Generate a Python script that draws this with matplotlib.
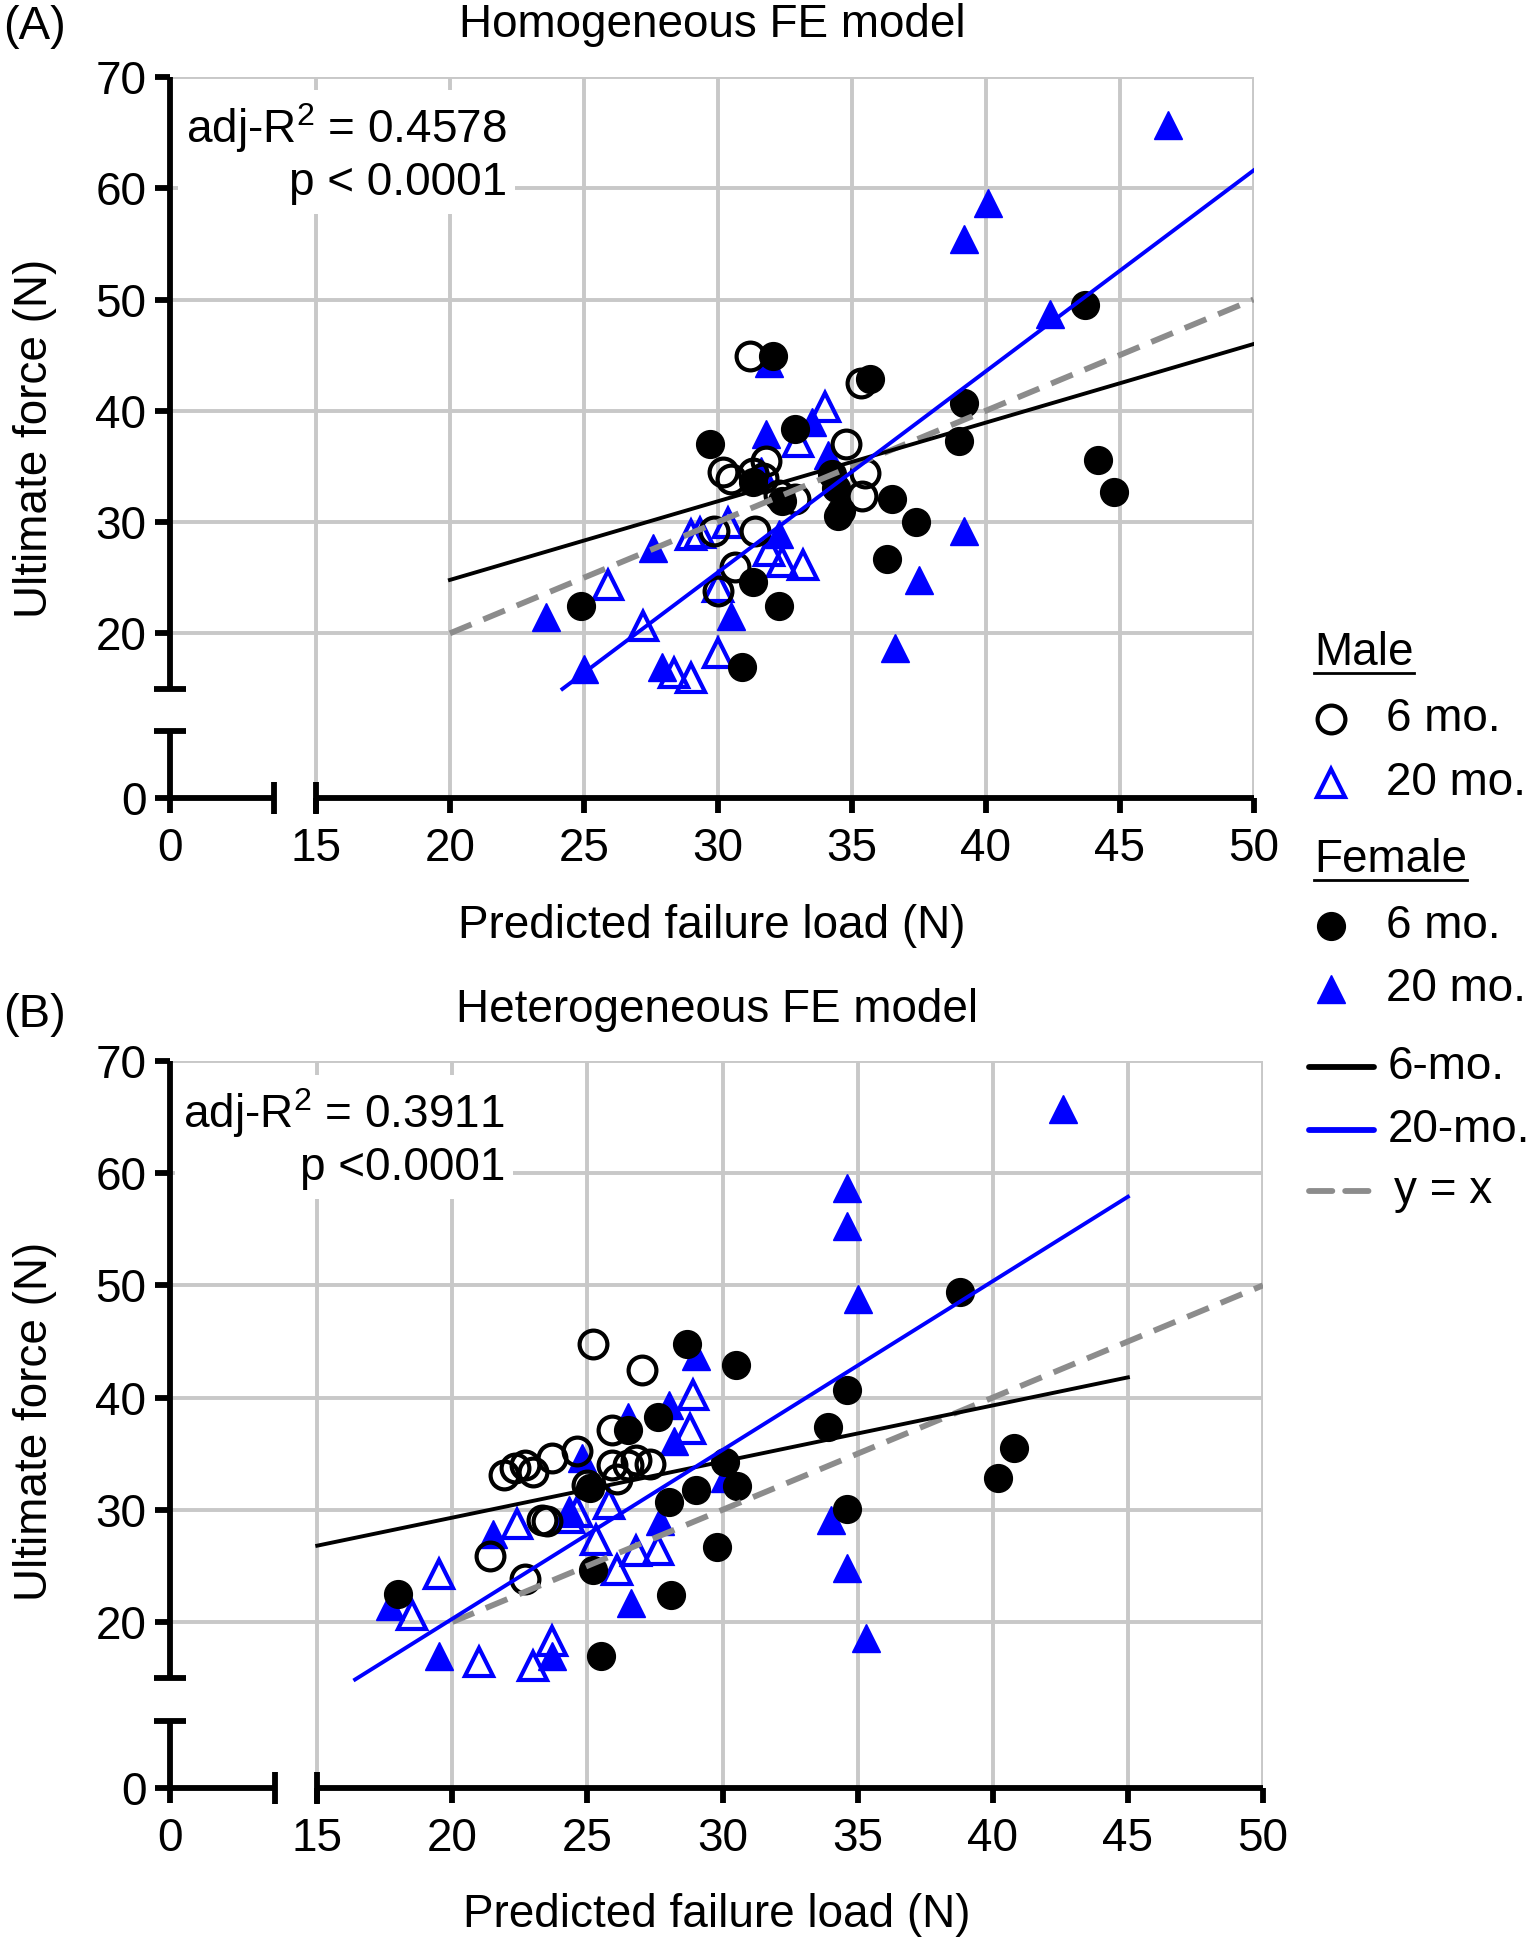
import numpy as np
import matplotlib
matplotlib.use('Agg')
import matplotlib.pyplot as plt
from matplotlib.lines import Line2D

plt.rcParams['font.family'] = ['Liberation Sans', 'DejaVu Sans']
plt.rcParams['mathtext.fontset'] = 'custom'
plt.rcParams['mathtext.rm'] = 'Liberation Sans'
plt.rcParams['mathtext.it'] = 'Liberation Sans:italic'

BLUE = '#0000ff'
GRAY = '#8c8c8c'
GRID = '#c8c8c8'
FS = 33

# ---- panel A: homogeneous FE model ----
a_m6_x = [31.2, 35.35, 34.8, 35.5, 35.4, 32.9, 30.2, 30.5, 31.8, 31.7, 31.3, 29.85, 31.4, 30.65, 30.0, 32.3]
a_m6_y = [44.9, 42.5, 37.0, 34.4, 32.3, 32.1, 34.5, 33.9, 35.5, 34.0, 34.4, 29.2, 29.2, 26.0, 23.8, 32.4]
a_m20_x = [34.0, 33.0, 25.9, 27.2, 28.35, 29.0, 30.0, 29.0, 29.35, 30.4, 31.9, 32.4, 33.2, 30.0]
a_m20_y = [40.3, 37.2, 24.3, 20.7, 16.4, 16.0, 18.2, 28.8, 29.0, 29.9, 27.4, 26.4, 26.1, 24.2]
a_f6_x = [32.05, 35.7, 43.7, 39.2, 39.0, 44.2, 44.8, 36.5, 37.4, 36.3, 29.7, 32.9, 31.3, 32.3, 24.9, 30.9,
          34.25, 34.4, 34.6, 34.5, 31.3, 32.4]
a_f6_y = [44.9, 42.9, 49.5, 40.7, 37.3, 35.6, 32.7, 32.1, 30.0, 26.7, 37.0, 38.4, 24.6, 22.5, 22.5, 17.0,
          34.3, 33.1, 31.0, 30.5, 33.6, 31.9]
a_f20_x = [46.8, 40.1, 39.2, 42.4, 31.9, 31.8, 33.5, 34.1, 39.2, 37.5, 36.6, 27.6, 23.6, 25.0, 27.9, 30.5, 32.3, 31.6]
a_f20_y = [65.7, 58.7, 55.4, 48.7, 44.3, 37.9, 39.0, 36.0, 29.2, 24.8, 18.7, 27.7, 21.5, 16.8, 17.0, 21.6, 28.9, 34.6]
a_fit6_x, a_fit6_y = [20, 50], [24.8, 46.0]
a_fit20_x, a_fit20_y = [24.2, 50], [15.0, 61.6]
a_idx_x, a_idx_y = [20, 50], [20, 50]
a_stats = 'adj-R$^2$ = 0.4578\np < 0.0001'

# ---- panel B: heterogeneous FE model ----
b_m6_x = [25.2, 27.0, 25.9, 21.9, 22.3, 22.7, 23.0, 23.7, 24.6, 25.0, 25.9, 26.1, 26.5, 26.8, 27.3, 23.3, 23.5, 21.4, 22.7]
b_m6_y = [44.8, 42.5, 37.1, 33.1, 33.7, 34.0, 33.4, 34.6, 35.2, 32.2, 34.0, 32.7, 34.0, 34.4, 34.1, 29.1, 29.0, 25.9, 23.8]
b_m20_x = [28.9, 28.8, 19.5, 18.5, 21.0, 23.0, 23.7, 22.4, 24.3, 24.6, 25.8, 25.3, 26.1, 26.8, 27.6]
b_m20_y = [40.2, 37.2, 24.3, 20.6, 16.4, 16.1, 18.3, 28.7, 29.3, 29.8, 30.5, 27.3, 24.6, 26.3, 26.4]
b_f6_x = [28.7, 30.5, 27.6, 26.5, 25.1, 30.1, 30.55, 29.0, 28.0, 29.8, 28.1, 25.2, 25.5, 18.0, 34.6, 33.9, 34.6,
          38.8, 40.8, 40.2]
b_f6_y = [44.8, 42.9, 38.3, 37.1, 31.9, 34.3, 32.1, 31.8, 30.7, 26.7, 22.4, 24.6, 17.0, 22.5, 40.7, 37.4, 30.1,
          49.4, 35.5, 32.8]
b_f20_x = [42.6, 34.6, 34.6, 35.0, 34.0, 34.6, 35.3, 29.0, 28.0, 28.2, 27.7, 26.6, 19.5, 17.7, 23.7, 26.5, 21.5,
           24.8, 24.3, 30.1]
b_f20_y = [65.7, 58.7, 55.3, 48.8, 29.1, 24.8, 18.6, 43.7, 39.3, 36.1, 29.0, 21.7, 17.0, 21.4, 17.0, 38.3, 27.8,
           34.6, 30.0, 32.8]
b_fit6_x, b_fit6_y = [15, 45], [26.8, 41.8]
b_fit20_x, b_fit20_y = [16.4, 45], [14.8, 57.9]
b_idx_x, b_idx_y = [20, 50], [20, 50]
b_stats = 'adj-R$^2$ = 0.3911\np <0.0001'

x_ticks = [0, 15, 20, 25, 30, 35, 40, 45, 50]
y_ticks = [0, 20, 30, 40, 50, 60, 70]

W, H = 1537, 1950
fig = plt.figure(figsize=(W / 100, H / 100), dpi=100)

MS = 20
MEW = 3.0
AXW = 4.2


def P(px, py):
    return px / W, 1 - py / H


def broken(k, brk=15.0):
    def fwd(v):
        v = np.asarray(v, dtype=float)
        return np.where(v < brk, v * k / brk, k + (v - brk))

    def inv(d):
        d = np.asarray(d, dtype=float)
        return np.where(d < k, d * brk / k, d - k + brk)
    return fwd, inv


def panel(rect, m6, m20, f6, f20, fit6, fit20, idx):
    ax = fig.add_axes(rect)
    ax.set_xscale('function', functions=broken(5.45))
    ax.set_yscale('function', functions=broken(9.8))
    ax.set_xlim(0, 50)
    ax.set_ylim(0, 70)
    for s in ax.spines.values():
        s.set_visible(False)
    for v in x_ticks[1:]:
        ax.axvline(v, color=GRID, lw=2.8, zorder=0)
    for v in y_ticks[1:]:
        ax.axhline(v, color=GRID, lw=2.8, zorder=0)

    ax.plot(*m20, ls='none', marker='^', ms=MS, mfc='none', mec=BLUE, mew=MEW, zorder=3, clip_on=False)
    ax.plot(*f20, ls='none', marker='^', ms=MS, mfc=BLUE, mec=BLUE, mew=1, zorder=3, clip_on=False)
    ax.plot(*m6, ls='none', marker='o', ms=MS, mfc='none', mec='black', mew=MEW, zorder=4, clip_on=False)
    ax.plot(*f6, ls='none', marker='o', ms=MS, mfc='black', mec='black', mew=1, zorder=4, clip_on=False)

    ax.plot(*idx, color=GRAY, lw=4.2, dashes=(4, 2.2), zorder=5)
    ax.plot(*fit6, color='black', lw=2.8, zorder=5)
    ax.plot(*fit20, color=BLUE, lw=2.8, zorder=5)

    # broken axis lines
    lk = dict(color='black', lw=AXW, solid_capstyle='butt', clip_on=False, zorder=6)
    ax.plot([0, 0], [0, 9.2], **lk)
    ax.plot([0, 0], [15, 70], **lk)
    ax.plot([0, 10.7], [0, 0], **lk)
    ax.plot([15, 50], [0, 0], **lk)
    ck = dict(ls='none', color='black', ms=23, mew=AXW, clip_on=False, zorder=6)
    ax.plot([0, 0], [9.2, 15], marker='_', **ck)
    ax.plot([10.7, 15], [0, 0], marker='|', **ck)

    ax.set_xticks(x_ticks)
    ax.set_yticks(y_ticks)
    ax.set_xticklabels([str(v) for v in x_ticks])
    ax.set_yticklabels([str(v) for v in y_ticks])
    ax.tick_params(direction='out', length=11, width=AXW, labelsize=FS, color='black')
    ax.tick_params(axis='x', pad=10)
    ax.tick_params(axis='y', pad=6)
    ax.minorticks_off()
    return ax


ax_a = panel([170 / W, 1 - 798 / H, (1253.5 - 170) / W, (798 - 77) / H],
             (a_m6_x, a_m6_y), (a_m20_x, a_m20_y), (a_f6_x, a_f6_y), (a_f20_x, a_f20_y),
             (a_fit6_x, a_fit6_y), (a_fit20_x, a_fit20_y), (a_idx_x, a_idx_y))
ax_b = panel([170 / W, 1 - 1788 / H, (1263 - 170) / W, (1788 - 1061) / H],
             (b_m6_x, b_m6_y), (b_m20_x, b_m20_y), (b_f6_x, b_f6_y), (b_f20_x, b_f20_y),
             (b_fit6_x, b_fit6_y), (b_fit20_x, b_fit20_y), (b_idx_x, b_idx_y))

# titles, labels, panel letters
fig.text(*P(712, 25), 'Homogeneous FE model', fontsize=FS, ha='center', va='center')
fig.text(*P(717, 1010), 'Heterogeneous FE model', fontsize=FS, ha='center', va='center')
fig.text(*P(3, 27), '(A)', fontsize=FS + 1, ha='left', va='center')
fig.text(*P(3, 1015), '(B)', fontsize=FS + 1, ha='left', va='center')
fig.text(*P(712, 926), 'Predicted failure load (N)', fontsize=FS, ha='center', va='center')
fig.text(*P(717, 1915), 'Predicted failure load (N)', fontsize=FS, ha='center', va='center')
fig.text(*P(35, 438), 'Ultimate force (N)', fontsize=FS, ha='center', va='center', rotation=90)
fig.text(*P(35, 1421), 'Ultimate force (N)', fontsize=FS, ha='center', va='center', rotation=90)

# stats boxes
bb = dict(facecolor='white', edgecolor='none', pad=6)
fig.text(*P(507, 153), a_stats, fontsize=FS, ha='right', va='center', multialignment='right',
         linespacing=1.2, bbox=bb, zorder=10)
fig.text(*P(505, 1138), b_stats, fontsize=FS, ha='right', va='center', multialignment='right',
         linespacing=1.2, bbox=bb, zorder=10)

# legend
heads = []
heads.append(fig.text(*P(1314, 653), 'Male', fontsize=FS, ha='left', va='center'))
heads.append(fig.text(*P(1314, 860), 'Female', fontsize=FS, ha='left', va='center'))
items = [
    (719, '6 mo.', dict(marker='o', mfc='none', mec='black', mew=MEW)),
    (783, '20 mo.', dict(marker='^', mfc='none', mec=BLUE, mew=MEW)),
    (926, '6 mo.', dict(marker='o', mfc='black', mec='black')),
    (989, '20 mo.', dict(marker='^', mfc=BLUE, mec=BLUE)),
]
for py, lab, mk in items:
    fig.add_artist(Line2D([1331 / W], [1 - py / H], transform=fig.transFigure, ls='none', ms=MS, **mk))
    fig.text(*P(1386, py), lab, fontsize=FS, ha='left', va='center')
lines = [
    (1067, '6-mo.', dict(color='black', lw=4.2), 1388),
    (1130, '20-mo.', dict(color=BLUE, lw=4.2), 1388),
    (1191, 'y = x', dict(color=GRAY, lw=4.2, dashes=(4, 2.2)), 1394),
]
for py, lab, st, tx in lines:
    fig.add_artist(Line2D([1309 / W, 1374 / W], [1 - py / H] * 2, transform=fig.transFigure,
                          solid_capstyle='round', dash_capstyle='round', **st))
    fig.text(*P(tx, py), lab, fontsize=FS, ha='left', va='center')

fig.canvas.draw()
inv = fig.transFigure.inverted()
for t in heads:
    e = t.get_window_extent().transformed(inv)
    fig.add_artist(Line2D([e.x0, e.x1], [e.y0 + 0.001, e.y0 + 0.001], transform=fig.transFigure,
                          color='black', lw=2))

fig.savefig('out.png', dpi=100)
